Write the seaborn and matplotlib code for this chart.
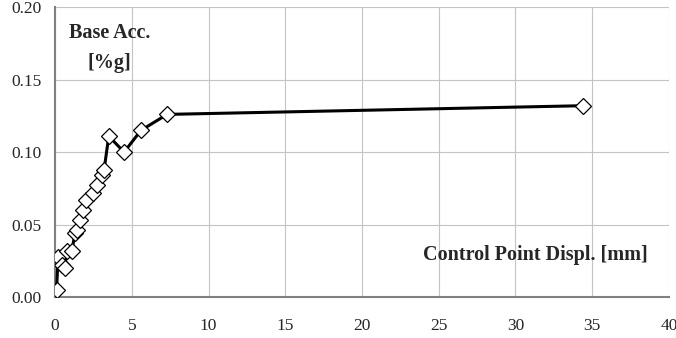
import numpy as np
import pandas as pd
import matplotlib
matplotlib.use("Agg")
import matplotlib.pyplot as plt
import seaborn as sns

# pushover-style curve: control point displacement vs base acceleration
displ = [0.1, 0.2, 0.45, 0.65, 0.75, 1.1, 1.3, 1.4, 1.6, 1.85, 2.05, 2.5, 2.75, 3.05, 3.2, 3.5, 4.5, 5.6, 7.3, 34.4]
acc = [0.005, 0.028, 0.022, 0.020, 0.032, 0.032, 0.044, 0.046, 0.053, 0.060, 0.067, 0.072, 0.077, 0.084, 0.088, 0.111, 0.100, 0.115, 0.126, 0.132]

df = pd.DataFrame({"displ": displ, "acc": acc})

sns.set_style("white")
plt.rcParams['font.family'] = ['Liberation Serif', 'DejaVu Serif']

fig = plt.figure(figsize=(6.76, 3.38), dpi=100)
ax = fig.add_axes([0.0814, 0.121, 0.9082, 0.858])

ax.grid(True, color='#c4c4c4', linewidth=0.8, zorder=0)
ax.set_axisbelow(True)

sns.lineplot(data=df, x="displ", y="acc", sort=False, ax=ax, color='black',
             linewidth=2.2, marker='D', markersize=8, markerfacecolor='white',
             markeredgecolor='black', markeredgewidth=0.9, zorder=3)

ax.set_xlim(0, 40)
ax.set_ylim(0, 0.20)
ax.set_xticks(np.arange(0, 41, 5))
ax.set_yticks([0.0, 0.05, 0.10, 0.15, 0.20])
ax.set_yticklabels(["0.00", "0.05", "0.10", "0.15", "0.20"])
ax.set_xlabel("")
ax.set_ylabel("")

for side in ['top', 'right']:
    ax.spines[side].set_visible(False)
for side in ['left', 'bottom']:
    ax.spines[side].set_color('#808080')
    ax.spines[side].set_linewidth(1.5)
ax.tick_params(direction='out', length=4, width=1.2, color='#808080',
               labelsize=12.5)
ax.tick_params(axis='y', pad=6)
ax.tick_params(axis='x', pad=11)

ax.text(0.089, 0.91, "Base Acc.", transform=ax.transAxes, ha='center',
        va='center', fontsize=14.5, fontweight='bold')
ax.text(0.089, 0.807, "[%g]", transform=ax.transAxes, ha='center',
        va='center', fontsize=14.5, fontweight='bold')
ax.text(0.782, 0.145, "Control Point Displ. [mm]", transform=ax.transAxes,
        ha='center', va='center', fontsize=14.5, fontweight='bold')

fig.savefig("out.png", dpi=100)
